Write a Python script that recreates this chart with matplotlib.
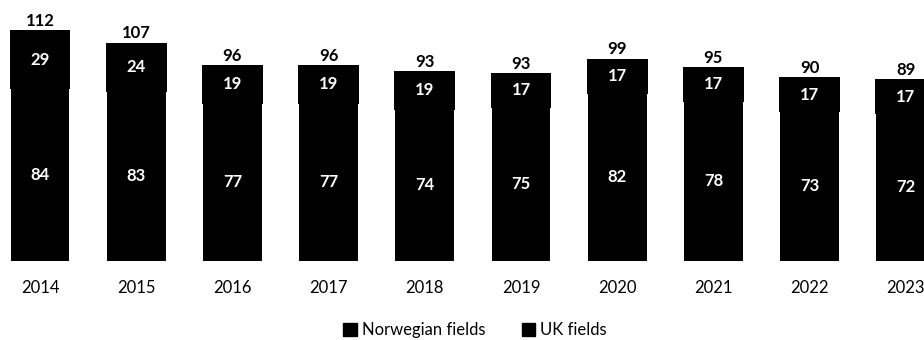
import matplotlib
matplotlib.use("Agg")
import matplotlib.pyplot as plt
from matplotlib.patches import Patch

years = ["2014", "2015", "2016", "2017", "2018", "2019", "2020", "2021", "2022", "2023"]
norwegian = [84, 83, 77, 77, 74, 75, 82, 78, 73, 72]
uk = [29, 24, 19, 19, 19, 17, 17, 17, 17, 17]
totals = [112, 107, 96, 96, 93, 93, 99, 95, 90, 89]

plt.rcParams["font.family"] = ["Lato", "DejaVu Sans"]

W, H = 924, 340
fig = plt.figure(figsize=(W / 100, H / 100), dpi=100)
ax = fig.add_axes([0, (H - 261) / H, 1, 261 / H])

x = list(range(len(years)))
ax.bar(x, norwegian, width=0.61, color="black", linewidth=0)
ax.bar(x, uk, bottom=norwegian, width=0.63, color="black", linewidth=0)

for i in x:
    ax.text(i, norwegian[i] / 2, str(norwegian[i]), ha="center", va="center",
            color="white", fontsize=12, fontweight="bold")
    ax.text(i, norwegian[i] + uk[i] / 2, str(uk[i]), ha="center", va="center",
            color="white", fontsize=12, fontweight="bold")
    ax.annotate(str(totals[i]), (i, norwegian[i] + uk[i]), xytext=(0, 1),
                textcoords="offset points", ha="center", va="bottom",
                color="black", fontsize=12, fontweight="bold")

ax.set_xlim(-40 / 96.2, (W - 40) / 96.2)
ax.set_ylim(0, 261 / 2.042)
ax.set_xticks(x)
ax.set_xticklabels(years, fontsize=12)
ax.tick_params(axis="x", length=0, pad=14)
ax.set_yticks([])
for s in ax.spines.values():
    s.set_visible(False)

handles = [Patch(facecolor="black", edgecolor="black"),
           Patch(facecolor="black", edgecolor="black")]
fig.legend(handles, ["Norwegian fields", "UK fields"], loc="center",
           bbox_to_anchor=(475 / W, 1 - 330 / H), ncol=2, frameon=False,
           fontsize=12, handlelength=0.8, handleheight=0.8, handletextpad=0.3,
           columnspacing=2.2)

fig.savefig("out.png", dpi=100)
